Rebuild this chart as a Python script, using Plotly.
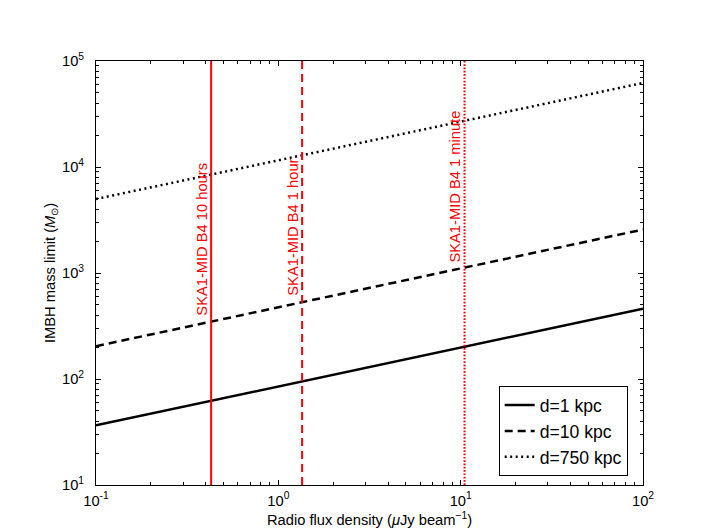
import math
import plotly.graph_objects as go

# Data
flux = [0.1, 1, 10, 100]                     # Radio flux density (uJy/beam)
mass_1kpc = [36.5, 85, 198, 461]             # d = 1 kpc
mass_10kpc = [204, 474, 1104, 2570]          # d = 10 kpc
mass_750kpc = [4990, 11560, 26800, 62100]    # d = 750 kpc

series_names = ["d=1 kpc", "d=10 kpc", "d=750 kpc"]

ska_limits = [0.428, 1.35, 10.5]             # SKA1-MID B4 sensitivities
ska_labels = ["SKA1-MID B4 10 hours", "SKA1-MID B4 1 hour", "SKA1-MID B4 1 minute"]
ska_label_bottom = [376, 580, 1190]          # y value of label bottom

x_range = [0.1, 100]
y_range = [10, 1e5]

x_tickvals = [0.1, 1, 10, 100]
x_ticktext = ["10<sup>-1</sup>", "10<sup>0</sup>", "10<sup>1</sup>", "10<sup>2</sup>"]
y_tickvals = [10, 100, 1000, 10000, 100000]
y_ticktext = ["10<sup>1</sup>", "10<sup>2</sup>", "10<sup>3</sup>", "10<sup>4</sup>", "10<sup>5</sup>"]

x_title = "Radio flux density (<i>μ</i>Jy beam<sup>−1</sup>)"
y_title = "IMBH mass limit (<i>M</i><sub>⊙</sub>)"

FONT = "Liberation Sans, Arial, Helvetica, sans-serif"
FS = 14.7

fig = go.Figure()

styles = [
    dict(color="black", width=2.5, dash="solid"),
    dict(color="black", width=2.5, dash="8px,5px"),
    dict(color="black", width=2.5, dash="2px,3.5px"),
]
for name, ys, st in zip(series_names, [mass_1kpc, mass_10kpc, mass_750kpc], styles):
    fig.add_trace(go.Scatter(x=flux, y=ys, mode="lines", name=name, line=st))

red_styles = [
    dict(color="#ff0000", width=2, dash="solid"),
    dict(color="#ff0000", width=2, dash="8px,5px"),
    dict(color="#ff0000", width=2, dash="1.7px,1.6px"),
]
for xv, st in zip(ska_limits, red_styles):
    fig.add_trace(go.Scatter(x=[xv, xv], y=y_range, mode="lines", line=st,
                             showlegend=False, hoverinfo="skip"))

for xv, lab, yb in zip(ska_limits, ska_labels, ska_label_bottom):
    fig.add_annotation(x=math.log10(xv), y=math.log10(yb), xref="x", yref="y",
                       text=lab, textangle=-90, showarrow=False,
                       xanchor="center", yanchor="bottom", xshift=-10,
                       font=dict(family=FONT, size=FS, color="#ff0000"))

# axis titles
fig.add_annotation(x=0.5, y=0, xref="paper", yref="paper", text=x_title,
                   showarrow=False, xanchor="center", yanchor="middle", yshift=-34,
                   font=dict(family=FONT, size=FS, color="black"))
fig.add_annotation(x=0, y=0.5, xref="paper", yref="paper", text=y_title,
                   showarrow=False, textangle=-90, xanchor="center", yanchor="middle",
                   xshift=-45, font=dict(family=FONT, size=FS, color="black"))

minor_x = [m * 10 ** e for e in range(-1, 2) for m in range(2, 10)]
minor_y = [m * 10 ** e for e in range(1, 5) for m in range(2, 10)]

axis_common = dict(
    type="log", showgrid=False, zeroline=False,
    showline=True, linecolor="black", linewidth=1, mirror="ticks",
    ticks="inside", ticklen=5, tickcolor="black", tickwidth=1,
    tickfont=dict(family=FONT, size=FS, color="black"),
    automargin=False,
)

fig.update_xaxes(
    **axis_common,
    range=[math.log10(x_range[0]), math.log10(x_range[1])],
    tickvals=x_tickvals, ticktext=x_ticktext, ticklabelstandoff=2,
    minor=dict(tickvals=minor_x, ticks="inside", ticklen=3, tickcolor="black", showgrid=False),
)
fig.update_yaxes(
    **axis_common,
    range=[math.log10(y_range[0]), math.log10(y_range[1])],
    tickvals=y_tickvals, ticktext=y_ticktext, ticklabelstandoff=8,
    minor=dict(tickvals=minor_y, ticks="inside", ticklen=3, tickcolor="black", showgrid=False),
)

fig.update_layout(
    width=706, height=530,
    margin=dict(l=88, r=71, t=53, b=53),
    paper_bgcolor="white", plot_bgcolor="white",
    font=dict(family=FONT, size=FS, color="black"),
    showlegend=True,
    legend=dict(x=0.972, y=0.021, xanchor="right", yanchor="bottom",
                bordercolor="black", borderwidth=1, bgcolor="white",
                font=dict(family=FONT, size=17.6, color="black")),
)

fig.write_html("out.html")
